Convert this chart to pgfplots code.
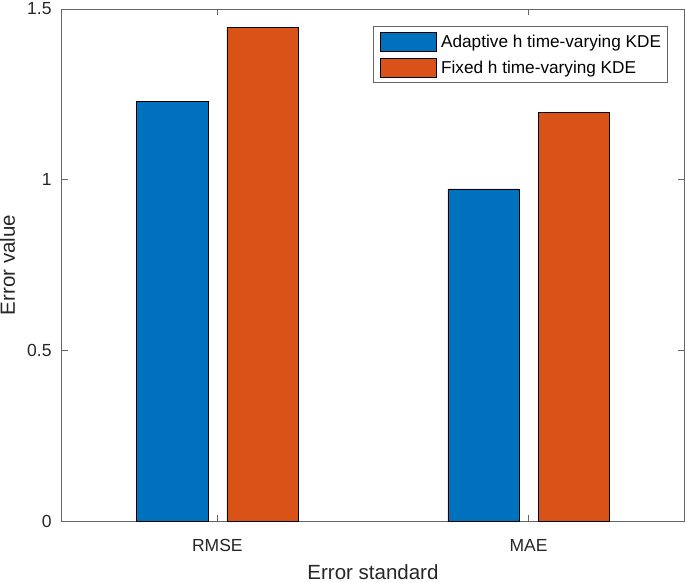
\documentclass[border=0pt]{standalone}
\usepackage{fontspec}
\setmainfont{Liberation Sans}
\usepackage{pgfplots}
\pgfplotsset{compat=1.18}
\definecolor{mblue}{RGB}{0,114,189}
\definecolor{morange}{RGB}{217,83,25}
\definecolor{axgray}{RGB}{38,38,38}
\definecolor{linegray}{RGB}{100,100,100}
\pgfplotsset{boxleg/.style={legend image code/.code={\draw[##1] (0pt,-9.5pt) rectangle (56pt,9.5pt);}}}
\begin{document}
\begin{tikzpicture}
\begin{axis}[
  scale only axis, width=622.5pt, height=512pt,
  xmin=0.5, xmax=2.5, ymin=0, ymax=1.5,
  xtick={1,2}, xticklabels={RMSE,MAE},
  ytick={0,0.5,1,1.5}, yticklabels={0,0.5,1,1.5},
  tick align=inside, major tick length=6.5pt,
  axis line style={linegray, line width=0.7pt},
  tick style={linegray, line width=0.7pt},
  ticklabel style={font=\fontsize{17.5}{20}\selectfont, text=axgray},
  xticklabel style={anchor=base, yshift=-30pt},
  yticklabel style={anchor=east, inner sep=0pt, xshift=-10pt},
  xlabel={Error standard}, ylabel={Error value},
  label style={font=\fontsize{20.5}{24}\selectfont, text=axgray},
  xlabel style={at={(axis description cs:0.5,-0.1152)}, anchor=base},
  ylabel style={at={(axis description cs:-0.07502,0.5)}, anchor=base},
  bar width=0.229,
  legend style={at={(axis description cs:0.974,0.966)}, anchor=north east, draw=linegray,
    line width=0.6pt,
    font=\fontsize{17.2}{20}\selectfont, cells={anchor=west},
    nodes={inner sep=0pt},
    row sep=6.4pt, column sep=4.7pt, inner xsep=6.7pt, inner ysep=5.3pt},
]
\addplot[ybar, bar shift=-0.145, fill=mblue, draw=black, line width=0.5pt, boxleg]
  coordinates {(1,1.230) (2,0.973)};
\addplot[ybar, bar shift=0.145, fill=morange, draw=black, line width=0.5pt, boxleg]
  coordinates {(1,1.446) (2,1.197)};
\legend{Adaptive h time-varying KDE, Fixed h time-varying KDE}
\end{axis}
\pgfresetboundingbox
\path[use as bounding box] ([xshift=-61.7pt,yshift=-62pt]current axis.south west) rectangle ([xshift=0.8pt,yshift=9pt]current axis.north east);
\end{tikzpicture}
\end{document}
